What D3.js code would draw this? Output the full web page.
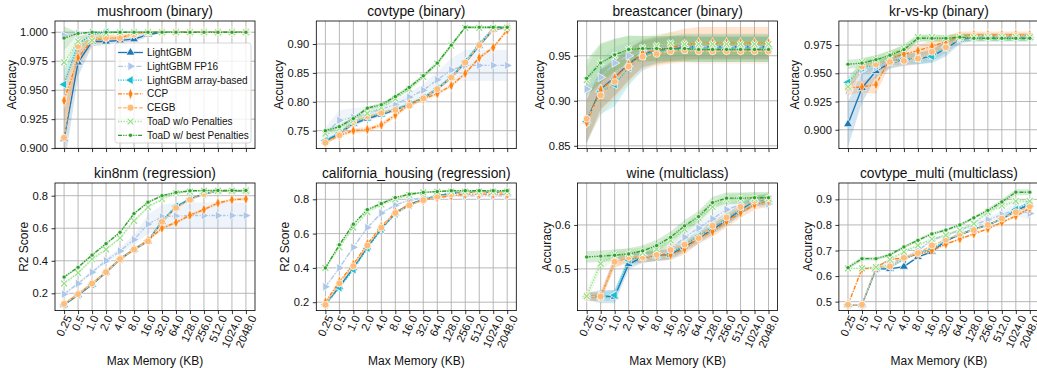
<!DOCTYPE html>
<html>
<head>
<meta charset="utf-8">
<script src="https://cdn.jsdelivr.net/npm/d3@7"></script>
<style>
  body { margin: 0; background: #fff; }
  svg { font-family: "Liberation Sans", Arial, sans-serif; }
</style>
</head>
<body>
<svg id="chart" width="1037" height="368"></svg>
<script>
const memory = ["0.25", "0.5", "1.0", "2.0", "4.0", "8.0", "16.0", "32.0", "64.0", "128.0", "256.0", "512.0", "1024.0", "2048.0"];
const seriesNames = ["LightGBM", "LightGBM FP16", "LightGBM array-based", "CCP", "CEGB", "ToaD w/o Penalties", "ToaD w/ best Penalties"];
const seriesColors = ["#1f77b4", "#aec7e8", "#17becf", "#ff7f0e", "#ffbb78", "#98df8a", "#2ca02c"];
const seriesDashes = [null, "5,1.5,1.2,1.5", "1.2,1.3", "4,1.5,1.2,1.5", "3.5,1.8", "1.2,1.6", "4,1.2,1.2,1.2,1.2,1.2"];
const seriesMarkers = ["^", ">", "<", "d", "o", "x", "."];

const panelTitles = ["mushroom (binary)", "covtype (binary)", "breastcancer (binary)", "kr-vs-kp (binary)",
  "kin8nm (regression)", "california_housing (regression)", "wine (multiclass)", "covtype_multi (multiclass)"];
const panelYLabels = ["Accuracy", "Accuracy", "Accuracy", "Accuracy", "R2 Score", "R2 Score", "Accuracy", "Accuracy"];
const panelYDomains = [[0.8996, 1.0097], [0.719, 0.9398], [0.8469, 0.9886], [0.8833, 0.9963],
  [0.0937, 0.878], [0.151, 0.895], [0.405, 0.6955], [0.465, 0.964]];
const panelYTicks = [
  [0.900, 0.925, 0.950, 0.975, 1.000],
  [0.75, 0.80, 0.85, 0.90],
  [0.85, 0.90, 0.95],
  [0.900, 0.925, 0.950, 0.975],
  [0.2, 0.4, 0.6, 0.8],
  [0.2, 0.4, 0.6, 0.8],
  [0.5, 0.6],
  [0.5, 0.6, 0.7, 0.8, 0.9]
];
const panelYFormats = [".3f", ".2f", ".2f", ".3f", ".1f", ".1f", ".1f", ".1f"];

// mean score per series (same order as seriesNames)
const mushroomAcc = [
  [0.908, 0.974, 0.992, 0.992, 0.993, 0.994, 0.998, 1, 1, 1, 1, 1, 1, 1],
  [0.997, 0.999, 1, 1, 1, 1, 1, 1, 1, 1, 1, 1, 1, 1],
  [0.955, 0.990, 0.998, 1, 1, 1, 1, 1, 1, 1, 1, 1, 1, 1],
  [0.941, 0.978, 0.993, 0.995, 0.995, 0.999, 1, 1, 1, 1, 1, 1, 1, 1],
  [0.909, 0.988, 0.995, 0.995, 0.995, 0.998, 1, 1, 1, 1, 1, 1, 1, 1],
  [0.974, 0.992, 0.993, 0.999, 1, 1, 1, 1, 1, 1, 1, 1, 1, 1],
  [0.995, 0.999, 1, 1, 1, 1, 1, 1, 1, 1, 1, 1, 1, 1]
];
const mushroomSpread = [
  [0.025, 0.012, 0.004, 0.003, 0.002, 0.002, 0.002, 0, 0, 0, 0, 0, 0, 0],
  [0.003, 0.001, 0, 0, 0, 0, 0, 0, 0, 0, 0, 0, 0, 0],
  [0.012, 0.006, 0.002, 0, 0, 0, 0, 0, 0, 0, 0, 0, 0, 0],
  [0.02, 0.008, 0.004, 0.003, 0.002, 0.001, 0, 0, 0, 0, 0, 0, 0, 0],
  [0.02, 0.01, 0.006, 0.004, 0.003, 0.002, 0, 0, 0, 0, 0, 0, 0, 0],
  [0.012, 0.005, 0.004, 0.001, 0, 0, 0, 0, 0, 0, 0, 0, 0, 0],
  [0.01, 0.001, 0, 0, 0, 0, 0, 0, 0, 0, 0, 0, 0, 0]
];

const covtypeAcc = [
  [0.732, 0.745, 0.762, 0.771, 0.778, 0.786, 0.795, 0.806, 0.822, 0.842, 0.868, 0.897, 0.925, 0.929],
  [0.745, 0.768, 0.773, 0.780, 0.787, 0.795, 0.808, 0.820, 0.838, 0.855, 0.863, 0.863, 0.863, 0.863],
  [0.733, 0.746, 0.765, 0.773, 0.780, 0.787, 0.796, 0.807, 0.823, 0.843, 0.870, 0.900, 0.927, 0.929],
  [0.730, 0.742, 0.750, 0.752, 0.760, 0.777, 0.796, 0.805, 0.814, 0.828, 0.849, 0.876, 0.894, 0.924],
  [0.729, 0.742, 0.765, 0.775, 0.781, 0.786, 0.793, 0.806, 0.822, 0.842, 0.868, 0.898, 0.925, 0.929],
  [0.745, 0.754, 0.768, 0.780, 0.790, 0.805, 0.822, 0.843, 0.866, 0.897, 0.928, 0.928, 0.928, 0.928],
  [0.750, 0.757, 0.771, 0.789, 0.795, 0.809, 0.825, 0.845, 0.867, 0.898, 0.929, 0.929, 0.929, 0.929]
];
const covtypeSpread = [
  [0.003, 0.003, 0.003, 0.003, 0.003, 0.003, 0.003, 0.003, 0.003, 0.003, 0.003, 0.003, 0.003, 0.002],
  [0.01, 0.018, 0.016, 0.012, 0.01, 0.008, 0.008, 0.01, 0.015, 0.02, 0.027, 0.027, 0.027, 0.027],
  [0.003, 0.003, 0.003, 0.003, 0.003, 0.003, 0.003, 0.003, 0.003, 0.003, 0.003, 0.003, 0.003, 0.002],
  [0.003, 0.003, 0.004, 0.004, 0.004, 0.004, 0.004, 0.003, 0.003, 0.003, 0.003, 0.003, 0.003, 0.003],
  [0.003, 0.003, 0.003, 0.003, 0.003, 0.003, 0.003, 0.003, 0.003, 0.003, 0.003, 0.003, 0.003, 0.002],
  [0.004, 0.005, 0.005, 0.005, 0.004, 0.003, 0.003, 0.003, 0.003, 0.003, 0.002, 0.002, 0.002, 0.002],
  [0.003, 0.003, 0.003, 0.003, 0.003, 0.003, 0.003, 0.003, 0.003, 0.003, 0.002, 0.002, 0.002, 0.002]
];

const breastcancerAcc = [
  [0.878, 0.913, 0.926, 0.941, 0.952, 0.956, 0.958, 0.960, 0.960, 0.960, 0.960, 0.960, 0.960, 0.960],
  [0.913, 0.926, 0.942, 0.950, 0.955, 0.958, 0.960, 0.960, 0.960, 0.960, 0.960, 0.960, 0.960, 0.960],
  [0.877, 0.910, 0.918, 0.937, 0.950, 0.955, 0.957, 0.957, 0.957, 0.957, 0.957, 0.957, 0.957, 0.957],
  [0.876, 0.912, 0.925, 0.940, 0.953, 0.956, 0.959, 0.962, 0.964, 0.964, 0.964, 0.964, 0.964, 0.964],
  [0.880, 0.906, 0.921, 0.938, 0.949, 0.952, 0.955, 0.956, 0.955, 0.955, 0.955, 0.955, 0.955, 0.955],
  [0.923, 0.942, 0.950, 0.958, 0.959, 0.961, 0.964, 0.963, 0.963, 0.963, 0.963, 0.963, 0.963, 0.963],
  [0.925, 0.942, 0.951, 0.957, 0.958, 0.958, 0.958, 0.958, 0.957, 0.957, 0.957, 0.957, 0.957, 0.957]
];
const breastcancerSpread = [
  [0.024, 0.022, 0.02, 0.018, 0.015, 0.014, 0.014, 0.014, 0.014, 0.014, 0.014, 0.014, 0.014, 0.014],
  [0.015, 0.02, 0.018, 0.015, 0.014, 0.013, 0.013, 0.013, 0.013, 0.013, 0.013, 0.013, 0.013, 0.013],
  [0.024, 0.025, 0.024, 0.02, 0.016, 0.014, 0.014, 0.014, 0.014, 0.014, 0.014, 0.014, 0.014, 0.014],
  [0.024, 0.022, 0.02, 0.018, 0.015, 0.016, 0.017, 0.018, 0.018, 0.018, 0.018, 0.018, 0.018, 0.018],
  [0.024, 0.022, 0.02, 0.018, 0.015, 0.014, 0.014, 0.014, 0.014, 0.014, 0.014, 0.014, 0.014, 0.014],
  [0.015, 0.02, 0.018, 0.015, 0.013, 0.013, 0.012, 0.012, 0.012, 0.012, 0.012, 0.012, 0.012, 0.012],
  [0.02, 0.022, 0.018, 0.015, 0.014, 0.014, 0.014, 0.014, 0.014, 0.014, 0.014, 0.014, 0.014, 0.014]
];

const krvskpAcc = [
  [0.905, 0.937, 0.952, 0.959, 0.962, 0.963, 0.965, 0.972, 0.980, 0.982, 0.982, 0.982, 0.982, 0.982],
  [0.935, 0.953, 0.955, 0.960, 0.962, 0.964, 0.967, 0.974, 0.981, 0.982, 0.982, 0.982, 0.982, 0.982],
  [0.942, 0.955, 0.957, 0.961, 0.963, 0.963, 0.965, 0.973, 0.981, 0.982, 0.982, 0.982, 0.982, 0.982],
  [0.937, 0.938, 0.940, 0.963, 0.967, 0.970, 0.974, 0.978, 0.983, 0.984, 0.984, 0.984, 0.984, 0.984],
  [0.937, 0.956, 0.958, 0.960, 0.961, 0.963, 0.969, 0.973, 0.982, 0.983, 0.983, 0.983, 0.983, 0.983],
  [0.938, 0.960, 0.962, 0.966, 0.972, 0.982, 0.982, 0.981, 0.982, 0.982, 0.982, 0.982, 0.982, 0.982],
  [0.958, 0.959, 0.962, 0.966, 0.971, 0.981, 0.981, 0.981, 0.982, 0.981, 0.981, 0.981, 0.981, 0.981]
];
const krvskpSpread = [
  [0.02, 0.013, 0.006, 0.005, 0.005, 0.005, 0.006, 0.007, 0.004, 0.003, 0.003, 0.003, 0.003, 0.003],
  [0.006, 0.005, 0.005, 0.005, 0.005, 0.005, 0.005, 0.005, 0.004, 0.003, 0.003, 0.003, 0.003, 0.003],
  [0.005, 0.005, 0.005, 0.005, 0.005, 0.005, 0.005, 0.005, 0.004, 0.003, 0.003, 0.003, 0.003, 0.003],
  [0.006, 0.005, 0.008, 0.006, 0.005, 0.005, 0.005, 0.005, 0.004, 0.003, 0.003, 0.003, 0.003, 0.003],
  [0.006, 0.006, 0.005, 0.005, 0.005, 0.005, 0.005, 0.005, 0.004, 0.003, 0.003, 0.003, 0.003, 0.003],
  [0.006, 0.004, 0.004, 0.004, 0.004, 0.003, 0.003, 0.003, 0.003, 0.003, 0.003, 0.003, 0.003, 0.003],
  [0.004, 0.004, 0.004, 0.004, 0.004, 0.003, 0.003, 0.003, 0.003, 0.003, 0.003, 0.003, 0.003, 0.003]
];

const kin8nmR2 = [
  [0.13, 0.19, 0.255, 0.33, 0.41, 0.47, 0.52, 0.64, 0.73, 0.78, 0.81, 0.83, 0.83, 0.83],
  [0.195, 0.26, 0.33, 0.40, 0.46, 0.53, 0.625, 0.67, 0.675, 0.678, 0.678, 0.678, 0.678, 0.678],
  [0.13, 0.19, 0.255, 0.33, 0.41, 0.47, 0.525, 0.645, 0.735, 0.78, 0.81, 0.83, 0.83, 0.83],
  [0.135, 0.195, 0.26, 0.33, 0.41, 0.47, 0.525, 0.60, 0.635, 0.68, 0.715, 0.755, 0.775, 0.78],
  [0.135, 0.195, 0.26, 0.33, 0.41, 0.47, 0.52, 0.64, 0.725, 0.775, 0.81, 0.83, 0.83, 0.83],
  [0.26, 0.325, 0.41, 0.47, 0.54, 0.645, 0.73, 0.78, 0.815, 0.825, 0.83, 0.83, 0.83, 0.83],
  [0.30, 0.36, 0.435, 0.505, 0.575, 0.69, 0.76, 0.80, 0.82, 0.83, 0.832, 0.832, 0.832, 0.832]
];
const kin8nmSpread = [
  [0.008, 0.008, 0.008, 0.008, 0.008, 0.008, 0.008, 0.008, 0.008, 0.006, 0.005, 0.004, 0.004, 0.004],
  [0.01, 0.01, 0.01, 0.015, 0.02, 0.03, 0.06, 0.075, 0.08, 0.08, 0.08, 0.08, 0.08, 0.08],
  [0.008, 0.008, 0.008, 0.008, 0.008, 0.008, 0.008, 0.008, 0.008, 0.006, 0.005, 0.004, 0.004, 0.004],
  [0.008, 0.008, 0.008, 0.008, 0.008, 0.008, 0.008, 0.01, 0.01, 0.01, 0.01, 0.01, 0.01, 0.01],
  [0.008, 0.008, 0.008, 0.008, 0.008, 0.008, 0.008, 0.008, 0.008, 0.006, 0.005, 0.004, 0.004, 0.004],
  [0.01, 0.01, 0.01, 0.01, 0.01, 0.01, 0.01, 0.008, 0.006, 0.005, 0.004, 0.004, 0.004, 0.004],
  [0.008, 0.008, 0.008, 0.008, 0.008, 0.008, 0.008, 0.006, 0.005, 0.004, 0.004, 0.004, 0.004, 0.004]
];

const californiaR2 = [
  [0.19, 0.29, 0.40, 0.52, 0.63, 0.72, 0.77, 0.80, 0.82, 0.835, 0.84, 0.84, 0.84, 0.84],
  [0.29, 0.40, 0.52, 0.635, 0.72, 0.765, 0.795, 0.81, 0.815, 0.82, 0.82, 0.82, 0.82, 0.82],
  [0.185, 0.285, 0.39, 0.515, 0.625, 0.715, 0.765, 0.80, 0.82, 0.835, 0.84, 0.84, 0.84, 0.84],
  [0.20, 0.32, 0.42, 0.54, 0.64, 0.725, 0.77, 0.795, 0.81, 0.82, 0.83, 0.83, 0.83, 0.83],
  [0.185, 0.31, 0.41, 0.53, 0.635, 0.72, 0.765, 0.795, 0.815, 0.83, 0.84, 0.84, 0.84, 0.84],
  [0.40, 0.52, 0.635, 0.725, 0.77, 0.80, 0.825, 0.84, 0.845, 0.845, 0.845, 0.845, 0.845, 0.845],
  [0.40, 0.535, 0.655, 0.74, 0.775, 0.81, 0.83, 0.84, 0.845, 0.85, 0.85, 0.85, 0.85, 0.85]
];
const californiaSpread = [
  [0.005, 0.005, 0.005, 0.005, 0.005, 0.005, 0.005, 0.004, 0.004, 0.004, 0.004, 0.004, 0.004, 0.004],
  [0.006, 0.006, 0.006, 0.006, 0.006, 0.006, 0.005, 0.005, 0.005, 0.005, 0.005, 0.005, 0.005, 0.005],
  [0.005, 0.005, 0.005, 0.005, 0.005, 0.005, 0.005, 0.004, 0.004, 0.004, 0.004, 0.004, 0.004, 0.004],
  [0.005, 0.005, 0.005, 0.005, 0.005, 0.005, 0.005, 0.004, 0.004, 0.004, 0.004, 0.004, 0.004, 0.004],
  [0.005, 0.005, 0.005, 0.005, 0.005, 0.005, 0.005, 0.004, 0.004, 0.004, 0.004, 0.004, 0.004, 0.004],
  [0.006, 0.008, 0.008, 0.007, 0.006, 0.005, 0.005, 0.004, 0.004, 0.004, 0.004, 0.004, 0.004, 0.004],
  [0.006, 0.006, 0.006, 0.006, 0.005, 0.005, 0.005, 0.004, 0.004, 0.004, 0.004, 0.004, 0.004, 0.004]
];

const wineAcc = [
  [0.437, 0.437, 0.437, 0.511, 0.526, 0.530, 0.533, 0.550, 0.570, 0.590, 0.610, 0.634, 0.655, 0.658],
  [0.437, 0.437, 0.520, 0.530, 0.530, 0.535, 0.545, 0.572, 0.593, 0.614, 0.635, 0.646, 0.655, 0.648],
  [0.437, 0.437, 0.440, 0.520, 0.527, 0.530, 0.535, 0.555, 0.575, 0.595, 0.615, 0.635, 0.655, 0.657],
  [0.437, 0.437, 0.515, 0.526, 0.526, 0.530, 0.532, 0.545, 0.570, 0.585, 0.607, 0.628, 0.646, 0.655],
  [0.437, 0.437, 0.516, 0.527, 0.527, 0.532, 0.543, 0.555, 0.570, 0.598, 0.617, 0.641, 0.655, 0.660],
  [0.438, 0.512, 0.532, 0.534, 0.536, 0.545, 0.565, 0.590, 0.616, 0.641, 0.658, 0.660, 0.660, 0.660],
  [0.527, 0.529, 0.531, 0.534, 0.541, 0.553, 0.572, 0.598, 0.619, 0.651, 0.661, 0.661, 0.662, 0.662]
];
const wineSpread = [
  [0.008, 0.015, 0.015, 0.012, 0.012, 0.012, 0.012, 0.012, 0.012, 0.012, 0.012, 0.012, 0.012, 0.012],
  [0.008, 0.008, 0.015, 0.012, 0.012, 0.012, 0.012, 0.012, 0.012, 0.012, 0.012, 0.012, 0.012, 0.012],
  [0.008, 0.01, 0.012, 0.012, 0.012, 0.012, 0.012, 0.012, 0.012, 0.012, 0.012, 0.012, 0.012, 0.012],
  [0.01, 0.01, 0.012, 0.012, 0.012, 0.012, 0.012, 0.012, 0.012, 0.012, 0.012, 0.012, 0.012, 0.012],
  [0.01, 0.01, 0.012, 0.012, 0.012, 0.012, 0.012, 0.012, 0.012, 0.012, 0.012, 0.012, 0.012, 0.012],
  [0.012, 0.015, 0.012, 0.012, 0.012, 0.012, 0.012, 0.012, 0.012, 0.012, 0.012, 0.012, 0.012, 0.012],
  [0.013, 0.013, 0.013, 0.013, 0.013, 0.013, 0.013, 0.013, 0.013, 0.013, 0.013, 0.013, 0.013, 0.013]
];

const covtypeMultiAcc = [
  [0.488, 0.488, 0.628, 0.628, 0.637, 0.675, 0.695, 0.738, 0.762, 0.782, 0.800, 0.823, 0.855, 0.880],
  [0.488, 0.488, 0.628, 0.650, 0.670, 0.700, 0.740, 0.760, 0.780, 0.800, 0.820, 0.840, 0.860, 0.845],
  [0.488, 0.488, 0.628, 0.635, 0.665, 0.690, 0.705, 0.740, 0.765, 0.785, 0.800, 0.825, 0.860, 0.890],
  [0.488, 0.628, 0.633, 0.665, 0.672, 0.685, 0.700, 0.725, 0.745, 0.765, 0.785, 0.810, 0.835, 0.865],
  [0.488, 0.488, 0.635, 0.638, 0.672, 0.690, 0.720, 0.742, 0.765, 0.780, 0.800, 0.825, 0.850, 0.873],
  [0.630, 0.630, 0.635, 0.665, 0.695, 0.720, 0.745, 0.760, 0.780, 0.805, 0.850, 0.875, 0.893, 0.893],
  [0.633, 0.668, 0.668, 0.683, 0.714, 0.740, 0.765, 0.780, 0.800, 0.828, 0.857, 0.890, 0.928, 0.928]
];
const covtypeMultiSpread = [
  [0.003, 0.003, 0.004, 0.004, 0.004, 0.004, 0.004, 0.004, 0.004, 0.004, 0.004, 0.004, 0.005, 0.006],
  [0.003, 0.003, 0.004, 0.004, 0.004, 0.005, 0.006, 0.006, 0.006, 0.008, 0.01, 0.015, 0.025, 0.025],
  [0.003, 0.003, 0.004, 0.004, 0.004, 0.004, 0.004, 0.004, 0.004, 0.004, 0.004, 0.004, 0.005, 0.006],
  [0.003, 0.004, 0.004, 0.004, 0.004, 0.004, 0.004, 0.004, 0.004, 0.004, 0.004, 0.004, 0.005, 0.006],
  [0.003, 0.003, 0.004, 0.004, 0.004, 0.004, 0.004, 0.004, 0.004, 0.004, 0.004, 0.004, 0.005, 0.006],
  [0.004, 0.004, 0.004, 0.005, 0.006, 0.006, 0.006, 0.006, 0.006, 0.006, 0.008, 0.01, 0.01, 0.01],
  [0.008, 0.008, 0.006, 0.006, 0.006, 0.006, 0.006, 0.006, 0.006, 0.006, 0.008, 0.01, 0.012, 0.012]
];

const panelMeans = [mushroomAcc, covtypeAcc, breastcancerAcc, krvskpAcc, kin8nmR2, californiaR2, wineAcc, covtypeMultiAcc];
const panelSpreads = [mushroomSpread, covtypeSpread, breastcancerSpread, krvskpSpread, kin8nmSpread, californiaSpread, wineSpread, covtypeMultiSpread];

const svg = d3.select("#chart");
const panelW = 200;
const panelH = 127.6;
const colStep = 261.3;
const rowTops = [21, 183];
const firstLeft = 55;
const lineW = 1.35;

const triangle = d3.symbol(d3.symbolTriangle, 34)();
const diamond = d3.symbol(d3.symbolDiamond, 38)();
const circle = d3.symbol(d3.symbolCircle, 38)();
const dot = d3.symbol(d3.symbolCircle, 14)();

function drawMarker(g, type, color, cx, cy) {
  if (type === "x") {
    const p = "M-2.9,-2.9L2.9,2.9M-2.9,2.9L2.9,-2.9";
    g.append("path").attr("d", p).attr("transform", `translate(${cx},${cy})`)
      .attr("stroke", "#fff").attr("stroke-width", 2.8).attr("fill", "none");
    g.append("path").attr("d", p).attr("transform", `translate(${cx},${cy})`)
      .attr("stroke", color).attr("stroke-width", 1.3).attr("fill", "none");
    return;
  }
  let d = circle, tf = `translate(${cx},${cy})`;
  if (type === "^") d = triangle;
  if (type === ">") { d = triangle; tf += " rotate(90)"; }
  if (type === "<") { d = triangle; tf += " rotate(-90)"; }
  if (type === "d") { d = diamond; tf += " scale(0.7,1)"; }
  if (type === ".") d = dot;
  g.append("path").attr("d", d).attr("transform", tf)
    .attr("fill", color).attr("stroke", "#fff").attr("stroke-width", 0.7);
}

panelTitles.forEach((title, p) => {
  const row = Math.floor(p / 4);
  const col = p % 4;
  const left = firstLeft + col * colStep;
  const top = rowTops[row];
  const g = svg.append("g").attr("transform", `translate(${left},${top})`);

  const x = d3.scalePoint().domain(memory).range([0, panelW]).padding(0.65);
  const y = d3.scaleLinear().domain(panelYDomains[p]).range([panelH, 0]);

  // grid
  g.append("g").selectAll("line").data(memory).join("line")
    .attr("x1", d => x(d)).attr("x2", d => x(d)).attr("y1", 0).attr("y2", panelH)
    .attr("stroke", "#b0b0b0").attr("stroke-width", 0.9);
  g.append("g").selectAll("line").data(panelYTicks[p]).join("line")
    .attr("x1", 0).attr("x2", panelW).attr("y1", d => y(d)).attr("y2", d => y(d))
    .attr("stroke", "#b0b0b0").attr("stroke-width", 0.9);

  const clipId = `clip${p}`;
  g.append("clipPath").attr("id", clipId).append("rect").attr("width", panelW).attr("height", panelH);
  const plot = g.append("g").attr("clip-path", `url(#${clipId})`);

  const means = panelMeans[p];
  const spreads = panelSpreads[p];

  // bands first
  seriesNames.forEach((name, s) => {
    const area = d3.area()
      .x((d, i) => x(memory[i]))
      .y0((d, i) => y(d - spreads[s][i]))
      .y1((d, i) => y(d + spreads[s][i]));
    plot.append("path").datum(means[s]).attr("d", area)
      .attr("fill", seriesColors[s]).attr("fill-opacity", 0.2).attr("stroke", "none");
  });

  seriesNames.forEach((name, s) => {
    const line = d3.line().x((d, i) => x(memory[i])).y(d => y(d));
    plot.append("path").datum(means[s]).attr("d", line)
      .attr("fill", "none").attr("stroke", seriesColors[s]).attr("stroke-width", lineW)
      .attr("stroke-dasharray", seriesDashes[s]);
    const mg = plot.append("g");
    means[s].forEach((v, i) => drawMarker(mg, seriesMarkers[s], seriesColors[s], x(memory[i]), y(v)));
  });

  // y axis
  const yAxis = g.append("g")
    .call(d3.axisLeft(y).tickValues(panelYTicks[p]).tickFormat(d3.format(panelYFormats[p])).tickSize(3.5).tickPadding(3.5));
  yAxis.select(".domain").remove();
  yAxis.attr("font-family", null).attr("font-size", null);
  yAxis.selectAll("line").attr("stroke", "#000").attr("stroke-width", 0.8);
  yAxis.selectAll("text").attr("font-size", 11.2).attr("fill", "#111");

  // x axis ticks
  const xAxis = g.append("g").attr("transform", `translate(0,${panelH})`)
    .call(d3.axisBottom(x).tickSize(3.5).tickFormat(""));
  xAxis.select(".domain").remove();
  xAxis.selectAll("line").attr("stroke", "#000").attr("stroke-width", 0.8);

  if (row === 1) {
    const rot = 65 * Math.PI / 180;
    memory.forEach(m => {
      const t = g.append("text").text(m).attr("font-size", 11.2).attr("fill", "#111")
        .attr("text-anchor", "middle").attr("dominant-baseline", "central");
      const w = t.node().getComputedTextLength();
      const hgt = 11;
      const cy = panelH + 3 + (w * Math.sin(rot) + hgt * Math.cos(rot)) / 2;
      t.attr("transform", `translate(${x(m)},${cy}) rotate(-65)`);
    });
    g.append("text").text("Max Memory (KB)").attr("x", panelW / 2).attr("y", 368 - top - 3.5)
      .attr("text-anchor", "middle").attr("font-size", 12).attr("fill", "#111");
  }

  // y label
  const bb = yAxis.node().getBBox();
  g.append("text").text(panelYLabels[p])
    .attr("transform", `translate(${bb.x - 4.5},${panelH / 2}) rotate(-90)`)
    .attr("text-anchor", "middle").attr("font-size", 12).attr("fill", "#111");

  // title
  g.append("text").text(title).attr("x", panelW / 2).attr("y", -5)
    .attr("text-anchor", "middle").attr("font-size", 13.8).attr("fill", "#111");

  // frame
  g.append("rect").attr("width", panelW).attr("height", panelH)
    .attr("fill", "none").attr("stroke", "#000").attr("stroke-width", 0.8);

  if (p === 0) {
    const lg = g.append("g").attr("transform", "translate(60,22)");
    lg.append("rect").attr("width", 136).attr("height", 100).attr("rx", 2.5)
      .attr("fill", "#fff").attr("fill-opacity", 0.8).attr("stroke", "#cccccc").attr("stroke-width", 0.8);
    seriesNames.forEach((name, s) => {
      const ly = 9.5 + s * 13.8;
      lg.append("line").attr("x1", 3).attr("x2", 28).attr("y1", ly).attr("y2", ly)
        .attr("stroke", seriesColors[s]).attr("stroke-width", lineW).attr("stroke-dasharray", seriesDashes[s]);
      drawMarker(lg, seriesMarkers[s], seriesColors[s], 15.5, ly);
      lg.append("text").text(name).attr("x", 32).attr("y", ly + 3.5)
        .attr("font-size", 10).attr("fill", "#111");
    });
  }
});
</script>
</body>
</html>
